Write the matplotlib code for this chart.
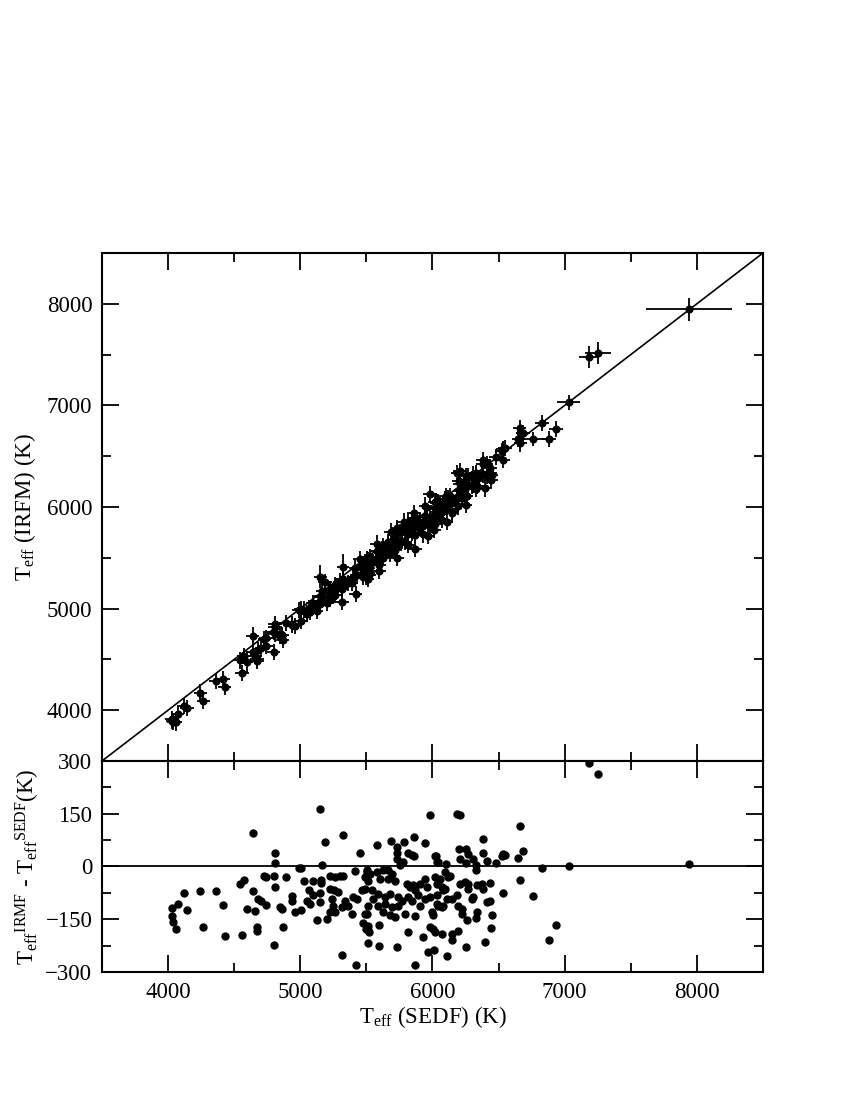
import matplotlib
matplotlib.use("Agg")
import matplotlib.pyplot as plt
from matplotlib.ticker import MultipleLocator
import numpy as np

plt.rcParams["font.family"] = "Liberation Serif"
plt.rcParams["mathtext.fontset"] = "custom"
plt.rcParams["mathtext.rm"] = "Liberation Serif"
plt.rcParams["mathtext.it"] = "Liberation Serif:italic"

# Teff from SED fitting (K) and IRFM - SEDF difference (K)
teff_sedf = [
    4027, 4032, 4039, 4057, 4072, 4118, 4143, 4244, 4266, 4360,
    4417, 4427, 4541, 4559, 4574, 4597, 4640, 4640, 4660, 4672,
    4672, 4682, 4705, 4728, 4741, 4741, 4799, 4800, 4806, 4809,
    4809, 4846, 4862, 4867, 4889, 4935, 4935, 4958, 4990,
    5003, 5005, 5030, 5048, 5066, 5073, 5096, 5099, 5124, 5149,
    5149, 5151, 5157, 5157, 5167, 5187, 5204, 5222, 5225, 5225,
    5237, 5249, 5257, 5262, 5262, 5288, 5302, 5313, 5315, 5321,
    5323, 5338, 5363, 5389, 5401, 5416, 5419, 5426, 5449, 5464,
    5476, 5489, 5489, 5489, 5494, 5502, 5509, 5514, 5514, 5514,
    5502, 5502, 5514, 5520, 5527, 5540, 5553, 5578, 5578, 5590,
    5590, 5595, 5595, 5603, 5628, 5628, 5641, 5641, 5661, 5666,
    5679, 5679, 5686, 5691, 5691, 5716, 5716, 5731, 5734, 5734,
    5734, 5741, 5741, 5754, 5767, 5779, 5787, 5792, 5804, 5812,
    5817, 5817, 5830, 5843, 5843, 5855, 5860, 5860, 5868, 5868,
    5868, 5893, 5906, 5906, 5931, 5943, 5943, 5946, 5956, 5963,
    5981, 5981, 5981, 5993, 6006, 6006, 6013, 6019, 6024, 6032,
    6032, 6032,
    6019, 6019, 6032, 6039, 6044, 6057, 6069, 6069, 6069, 6082,
    6082, 6095, 6095, 6102, 6107, 6107, 6120, 6133, 6145, 6145,
    6150, 6183, 6188, 6190, 6196, 6200, 6206, 6208, 6208, 6221,
    6221, 6246, 6251, 6251, 6254, 6259, 6266, 6271, 6271, 6297,
    6304, 6309, 6327, 6329, 6329, 6334, 6334, 6372, 6383, 6383,
    6383, 6397, 6410, 6410, 6435, 6435, 6442, 6447, 6480, 6523,
    6530, 6536,
    6548, 6649, 6660, 6664, 6685, 6757, 6828, 6881, 6934, 7030,
    7184, 7254, 7938,
]
delta_teff = [
    -118, -141, -158, -177, -108, -75, -123, -70, -173, -70,
    -110, -198, -51, -194, -38, -122, 95, -69, -126, -171,
    -183, -92, -97, -27, -30, -110, -224, -27, -58, 37,
    11, -114, -121, -172, -29, -85, -97, -129, -3,
    -5, -123, -40, -97, -66, -106, -42, -80, -151, -76,
    -101, 164, -38, -47, 4, 70, -150, -28, -63, -130,
    -92, -111, -68, -30, -130, -73, -28, -116, -251, 89,
    -27, -97, -111, -135, -87, -14, -279, -92, 39, -68,
    -161, -30, -63, -135, -177, -16, -217, -40, -111, -182,
    -11, -135, -168, -187, -21, -68, -92, 62, -16, -78,
    -111, -166, -225, -35, -11, -130, -87, -106, -9, -35,
    -78, -139, 72, -21, -116, -40, -144, -230, 55, 39,
    20, -87, -111, 3, -97, 12, 69, -135, -49, -187,
    38, -87, -59, 33, -97, -54, 83, 29, -68, -142,
    -279, -82, -49, -111, -201, -35, -92, 68, -59, -244,
    146, -87, -173, -130, -139, -177, -237, -30, 30, 12,
    -49, -106,
    31, -187, -82, 12, -111, -35, -59, -116, -193, -68,
    -111, -16, -63, 8, -92, -256, -30, -26, -92, -209,
    -192, -82, 148, -184, -111, 51, 146, 20, -51, -121,
    -135, -45, 50, -230, 9, -152, 36, -51, -63, -92,
    20, -87, -147, 3, -9, -54, -130, -49, 78, 39,
    -63, -215, 15, -101, -47, -97, -174, -137, 9, 31,
    36, -75,
    33, 23, 116, -38, 44, -84, -4, -210, -166, 1,
    294, 262, 7,
]

# typical error bars, plus the stars with visibly larger ones: sedf -> (err_sedf, err_irfm)
ERR_SEDF_DEFAULT = 50
ERR_IRFM_DEFAULT = 80
LARGE_ERRORS = {
    7938: (325, 110),
    7254: (97, 110),
    7184: (72, 110),
    7030: (87, 74),
    6757: (110, 70),
    5321: (45, 130),
    5151: (50, 110),
    4597: (45, 110),
    5976: (90, 80),
}


def main():
    sedf = np.array(teff_sedf, dtype=float)
    delta = np.array(delta_teff, dtype=float)
    irfm = sedf + delta
    xerr = np.array([LARGE_ERRORS.get(t, (ERR_SEDF_DEFAULT, ERR_IRFM_DEFAULT))[0] for t in teff_sedf])
    yerr = np.array([LARGE_ERRORS.get(t, (ERR_SEDF_DEFAULT, ERR_IRFM_DEFAULT))[1] for t in teff_sedf])

    fig = plt.figure(figsize=(8.5, 11), dpi=100)
    ax1 = fig.add_axes([0.12, 0.3082, 0.7776, 0.4618])
    ax2 = fig.add_axes([0.12, 0.1164, 0.7776, 0.1918])

    # ---- top: IRFM vs SEDF ----
    ax1.errorbar(sedf, irfm, xerr=xerr, yerr=yerr, fmt="o", color="black",
                 ms=4.8, elinewidth=1.3, capsize=0, zorder=3)
    ax1.plot([3500, 8500], [3500, 8500], color="black", lw=1.2, zorder=2)
    ax1.set_xlim(3500, 8500)
    ax1.set_ylim(3500, 8500)
    ax1.xaxis.set_major_locator(MultipleLocator(1000))
    ax1.xaxis.set_minor_locator(MultipleLocator(500))
    ax1.yaxis.set_minor_locator(MultipleLocator(500))
    ax1.set_yticks([4000, 5000, 6000, 7000, 8000])
    ax1.tick_params(labelbottom=False)
    ax1.set_ylabel(r"T$_{\rm eff}$ (IRFM) (K)", fontsize=16.5, labelpad=6)

    # ---- bottom: residuals ----
    ax2.plot(sedf, delta, "o", color="black", ms=5, zorder=3)
    ax2.axhline(0, color="black", lw=1.3, zorder=2)
    ax2.set_xlim(3500, 8500)
    ax2.set_ylim(-300, 300)
    ax2.xaxis.set_major_locator(MultipleLocator(1000))
    ax2.xaxis.set_minor_locator(MultipleLocator(500))
    ax2.yaxis.set_major_locator(MultipleLocator(150))
    ax2.yaxis.set_minor_locator(MultipleLocator(75))
    ax2.set_xlabel(r"T$_{\rm eff}$ (SEDF) (K)", fontsize=16.5, labelpad=1)
    ax2.set_ylabel(r"T$_{\rm eff}$$^{\rm IRMF}$ - T$_{\rm eff}$$^{\rm SEDF}$(K)",
                   fontsize=16.5, labelpad=2)

    for ax in (ax1, ax2):
        for sp in ax.spines.values():
            sp.set_linewidth(1.5)
        ax.tick_params(which="both", direction="in", top=True, right=True,
                       width=1.3, labelsize=16.5, pad=7)
        ax.tick_params(which="major", length=12)
        ax.tick_params(which="minor", length=6.5)

    fig.savefig("out.png", dpi=100)
    plt.close(fig)


if __name__ == "__main__":
    main()
